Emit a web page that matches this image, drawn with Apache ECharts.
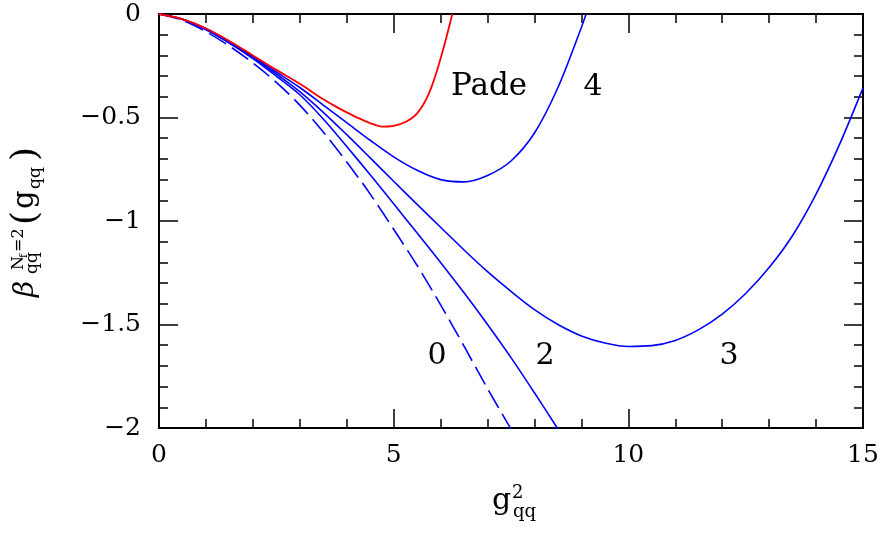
<!DOCTYPE html>
<html>
<head>
<meta charset="utf-8">
<script src="https://cdn.jsdelivr.net/npm/echarts@6/dist/echarts.min.js"></script>
<style>
html,body{margin:0;padding:0;background:#fff;}
#main{width:884px;height:533px;}
</style>
</head>
<body>
<div id="main"></div>
<script>
// ---- data ----
const xTicks = [0, 5, 10, 15];
const yTicks = [0, -0.5, -1, -1.5, -2];

const xOrder0 = [0,0.5,1,1.5,2,2.5,3,3.5,4,4.5,5,5.5,6,6.5,7,7.5];
const yOrder0 = [0,-0.03,-0.085,-0.155,-0.237,-0.33,-0.44,-0.57,-0.715,-0.87,-1.04,-1.215,-1.405,-1.605,-1.81,-2.005];

const xOrder2 = [0,0.5,1,1.5,2,2.5,3,3.5,4,4.5,5,5.5,6,6.5,7,7.5,8,8.5];
const yOrder2 = [0,-0.025,-0.075,-0.14,-0.215,-0.3,-0.39,-0.507,-0.64,-0.777,-0.917,-1.058,-1.2,-1.347,-1.5,-1.66,-1.83,-2.005];

const xOrder3 = [0,0.5,1,1.5,2,2.5,3,3.5,4,4.5,5,5.5,6,6.5,7,7.5,8,8.5,9,9.5,10,10.5,11,11.5,12,12.5,13,13.5,14,14.5,15];
const yOrder3 = [0,-0.025,-0.075,-0.14,-0.21,-0.29,-0.375,-0.475,-0.583,-0.695,-0.808,-0.92,-1.03,-1.14,-1.245,-1.34,-1.428,-1.50,-1.555,-1.589,-1.606,-1.602,-1.577,-1.525,-1.45,-1.35,-1.225,-1.07,-0.87,-0.63,-0.357];

const xOrder4 = [0,0.5,1,1.5,2,2.5,3,3.5,4,4.5,5,5.5,6,6.5,7,7.5,8,8.5,9,9.1];
const yOrder4 = [0,-0.025,-0.07,-0.135,-0.205,-0.28,-0.355,-0.44,-0.525,-0.61,-0.69,-0.755,-0.80,-0.811,-0.78,-0.71,-0.575,-0.355,-0.065,0];

const xPade = [0,0.5,1,1.5,2,2.5,3,3.5,3.75,4,4.25,4.5,4.75,5,5.25,5.5,5.75,6,6.25];
const yPade = [0,-0.025,-0.07,-0.13,-0.2,-0.27,-0.337,-0.412,-0.445,-0.475,-0.503,-0.527,-0.544,-0.54,-0.522,-0.48,-0.385,-0.215,0];

const curveLabels = ['0', '2', '3', '4', 'Pade'];

// ---- chart ----
const FONT = '"DejaVu Serif", "Liberation Serif", serif';
const BLUE = '#0000ff', RED = '#ff0000';
const zip = (xs, ys) => xs.map((x, i) => [x, ys[i]]);
const minus = v => String(v).replace('-', '\u2212');
const X_MIN = xTicks[0], X_MAX = xTicks[xTicks.length - 1];
const Y_MIN = yTicks[yTicks.length - 1], Y_MAX = yTicks[0];

function lineSeries(name, xs, ys, color, width, dashed) {
  return {
    name, type: 'line', data: zip(xs, ys), smooth: 0.33,
    showSymbol: false, symbol: 'none', clip: true,
    lineStyle: { color, width, type: dashed ? [20, 7] : 'solid' },
    xAxisIndex: 0, yAxisIndex: 0, z: 3
  };
}

function axis(kind, position, interval, tickLen, inside, withLabel) {
  const isX = kind === 'x';
  return {
    type: 'value',
    min: isX ? X_MIN : Y_MIN, max: isX ? X_MAX : Y_MAX, interval,
    position, offset: 0,
    axisLine: { show: true, onZero: false, lineStyle: { color: '#000', width: 2 } },
    axisTick: { show: true, inside, length: tickLen, lineStyle: { color: '#000', width: 1.5 } },
    minorTick: { show: false },
    splitLine: { show: false },
    axisLabel: withLabel ? {
      show: true, color: '#000', fontSize: 25, fontFamily: FONT,
      margin: isX ? 15 : 18, formatter: minus, showMinLabel: true, showMaxLabel: true
    } : { show: false }
  };
}

function txt(x, y, text, size, opts) {
  opts = opts || {};
  return {
    type: 'text', x, y,
    style: {
      text, fill: '#000', fontSize: size, fontFamily: FONT,
      fontStyle: opts.italic ? 'italic' : 'normal',
      align: opts.align || 'left', verticalAlign: 'middle',
      textAlign: opts.align || 'left', textVerticalAlign: 'middle'
    }
  };
}

const chart = echarts.init(document.getElementById('main'), null, { renderer: 'canvas' });
chart.setOption({
  animation: false,
  backgroundColor: '#fff',
  grid: { left: 159, right: 21, top: 14, bottom: 105, containLabel: false },
  xAxis: [
    axis('x', 'bottom', 5, 19, true, true),
    axis('x', 'top', 5, 19, true, false),
    axis('x', 'bottom', 1, -9, false, false),
    axis('x', 'top', 1, -9, false, false)
  ],
  yAxis: [
    axis('y', 'left', 0.5, 19, true, true),
    axis('y', 'right', 0.5, 19, true, false),
    axis('y', 'left', 0.1, -9, false, false),
    axis('y', 'right', 0.1, -9, false, false)
  ],
  series: [
    lineSeries('order0', xOrder0, yOrder0, BLUE, 1.6, true),
    lineSeries('order2', xOrder2, yOrder2, BLUE, 1.6, false),
    lineSeries('order3', xOrder3, yOrder3, BLUE, 1.6, false),
    lineSeries('order4', xOrder4, yOrder4, BLUE, 1.6, false),
    lineSeries('pade', xPade, yPade, RED, 1.8, false)
  ],
  graphic: [
    // curve labels
    txt(437, 356, curveLabels[0], 30, { align: 'center' }),
    txt(545, 356, curveLabels[1], 30, { align: 'center' }),
    txt(729, 356, curveLabels[2], 30, { align: 'center' }),
    txt(593, 87, curveLabels[3], 30, { align: 'center' }),
    txt(489, 87, curveLabels[4], 31, { align: 'center' }),
    // x-axis title g^2_qq
    txt(492, 501, 'g', 30),
    txt(512, 493, '2', 18),
    txt(513, 512, 'qq', 18),
    // y-axis title beta^{N_f=2}_{qq}(g_qq), rotated
    {
      type: 'group', x: 34, y: 297, rotation: Math.PI / 2,
      children: [
        txt(0, -8.5, '\u03B2', 28, { italic: true }),
        txt(27, -15.5, 'N', 16),
        txt(39, -10, 'f', 11),
        txt(45, -15.5, '=2', 16),
        txt(23, -1.5, 'qq', 17),
        txt(72, -7.5, '(', 36),
        txt(88, -8.5, 'g', 29),
        txt(108, 1.5, 'qq', 17),
        txt(136, -7.5, ')', 36)
      ]
    }
  ]
});
</script>
</body>
</html>
